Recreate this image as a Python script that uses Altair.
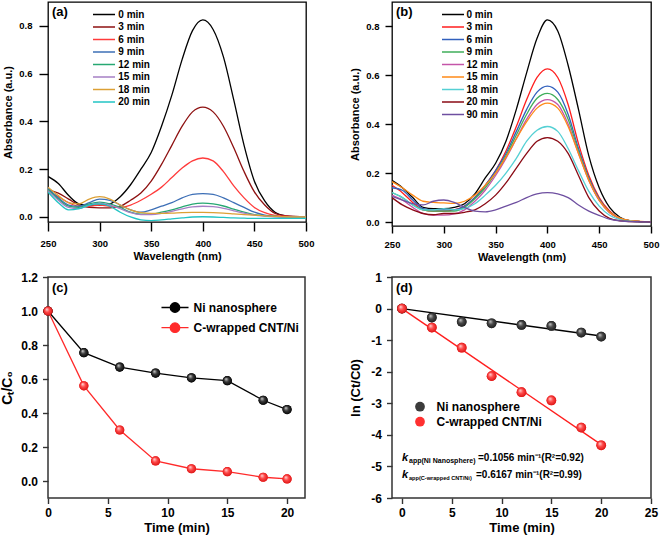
import altair as alt
import pandas as pd

FONT = "Liberation Sans"

# ---------------- data ----------------
wavelength = [250, 260, 270, 280, 290, 300, 310, 320, 330, 340, 350, 360, 370,
              380, 390, 400, 410, 420, 430, 440, 450, 460, 470, 480, 490, 500]

a_labels = ["0 min", "3 min", "6 min", "9 min", "12 min", "15 min", "18 min", "20 min"]
a_colors = ["#000000", "#8e1111", "#ff3b3b", "#3d6fb6", "#27a872", "#a67fc4", "#dca035", "#22c4c4"]
a_0 = [0.17, 0.14, 0.09, 0.055, 0.05, 0.05, 0.055, 0.085, 0.135, 0.2, 0.27, 0.38, 0.51, 0.66, 0.78, 0.825, 0.785, 0.67, 0.49, 0.30, 0.15, 0.067, 0.02, 0.005, 0.001, 0.0]
a_3 = [0.115, 0.1, 0.075, 0.05, 0.04, 0.038, 0.038, 0.045, 0.07, 0.1, 0.15, 0.22, 0.3, 0.38, 0.44, 0.46, 0.44, 0.38, 0.29, 0.19, 0.105, 0.05, 0.015, 0.005, 0.002, 0.0]
a_6 = [0.11, 0.085, 0.06, 0.045, 0.045, 0.05, 0.045, 0.04, 0.05, 0.07, 0.095, 0.125, 0.165, 0.205, 0.235, 0.247, 0.235, 0.19, 0.13, 0.08, 0.04, 0.018, 0.007, 0.003, 0.001, 0.0]
a_9 = [0.12, 0.08, 0.05, 0.045, 0.06, 0.075, 0.07, 0.05, 0.03, 0.02, 0.03, 0.045, 0.06, 0.08, 0.095, 0.098, 0.095, 0.08, 0.06, 0.04, 0.02, 0.008, 0.003, 0.0, 0.0, 0.0]
a_12 = [0.115, 0.075, 0.045, 0.04, 0.055, 0.062, 0.055, 0.04, 0.02, 0.012, 0.012, 0.02, 0.03, 0.042, 0.054, 0.058, 0.055, 0.046, 0.033, 0.02, 0.01, 0.005, 0.002, 0.0, 0.0, 0.0]
a_15 = [0.11, 0.07, 0.04, 0.035, 0.05, 0.058, 0.05, 0.035, 0.018, 0.01, 0.01, 0.015, 0.024, 0.034, 0.042, 0.045, 0.043, 0.036, 0.026, 0.016, 0.008, 0.004, 0.001, 0.0, 0.0, 0.0]
a_18 = [0.125, 0.09, 0.06, 0.055, 0.075, 0.085, 0.075, 0.05, 0.03, 0.018, 0.015, 0.015, 0.016, 0.018, 0.019, 0.019, 0.018, 0.016, 0.013, 0.01, 0.008, 0.005, 0.003, 0.001, 0.0, 0.0]
a_20 = [0.105, 0.06, 0.03, 0.035, 0.05, 0.055, 0.045, 0.02, 0.0, -0.012, -0.015, -0.012, -0.008, -0.004, 0.0, 0.001, 0.0, -0.002, -0.004, -0.005, -0.006, -0.006, -0.006, -0.006, -0.006, -0.006]
a_series = [a_0, a_3, a_6, a_9, a_12, a_15, a_18, a_20]

b_labels = ["0 min", "3 min", "6 min", "9 min", "12 min", "15 min", "18 min", "20 min", "90 min"]
b_colors = ["#000000", "#ff1e1e", "#3160bd", "#3fae5a", "#c455a8", "#ff8a17", "#55d0d4", "#8a0a14", "#6e4fa0"]
b_0 = [0.17, 0.14, 0.1, 0.06, 0.055, 0.055, 0.06, 0.075, 0.115, 0.18, 0.24, 0.33, 0.46, 0.61, 0.75, 0.825, 0.78, 0.64, 0.46, 0.27, 0.14, 0.06, 0.02, 0.005, 0.002, 0.0]
b_3 = [0.15, 0.12, 0.08, 0.05, 0.045, 0.045, 0.05, 0.065, 0.1, 0.15, 0.21, 0.29, 0.39, 0.5, 0.59, 0.625, 0.59, 0.48, 0.32, 0.19, 0.1, 0.045, 0.015, 0.005, 0.002, 0.0]
b_6 = [0.14, 0.13, 0.09, 0.055, 0.05, 0.05, 0.05, 0.065, 0.1, 0.15, 0.21, 0.28, 0.37, 0.46, 0.53, 0.555, 0.53, 0.44, 0.3, 0.18, 0.095, 0.04, 0.015, 0.005, 0.002, 0.0]
b_9 = [0.12, 0.1, 0.07, 0.05, 0.045, 0.045, 0.045, 0.06, 0.095, 0.14, 0.2, 0.27, 0.355, 0.44, 0.505, 0.525, 0.5, 0.42, 0.29, 0.175, 0.09, 0.04, 0.015, 0.005, 0.002, 0.0]
b_12 = [0.11, 0.09, 0.06, 0.035, 0.028, 0.028, 0.033, 0.05, 0.085, 0.13, 0.19, 0.26, 0.34, 0.42, 0.48, 0.5, 0.48, 0.4, 0.28, 0.17, 0.088, 0.038, 0.014, 0.005, 0.002, 0.0]
b_15 = [0.165, 0.14, 0.11, 0.085, 0.08, 0.078, 0.076, 0.085, 0.11, 0.15, 0.2, 0.265, 0.34, 0.41, 0.465, 0.485, 0.465, 0.39, 0.28, 0.17, 0.09, 0.04, 0.016, 0.006, 0.003, 0.001]
b_18 = [0.12, 0.1, 0.07, 0.05, 0.05, 0.055, 0.05, 0.055, 0.075, 0.11, 0.15, 0.2, 0.26, 0.33, 0.375, 0.39, 0.37, 0.3, 0.21, 0.125, 0.065, 0.028, 0.01, 0.004, 0.001, 0.0]
b_20 = [0.1, 0.07, 0.05, 0.035, 0.03, 0.035, 0.035, 0.04, 0.05, 0.075, 0.11, 0.16, 0.22, 0.28, 0.33, 0.345, 0.33, 0.28, 0.19, 0.1, 0.045, 0.015, 0.005, 0.002, 0.001, 0.0]
b_90 = [0.105, 0.09, 0.075, 0.07, 0.085, 0.09, 0.08, 0.06, 0.045, 0.042, 0.05, 0.065, 0.08, 0.1, 0.115, 0.12, 0.115, 0.1, 0.07, 0.045, 0.027, 0.012, 0.005, 0.002, 0.001, 0.0]
b_series = [b_0, b_3, b_6, b_9, b_12, b_15, b_18, b_20, b_90]

time_min = [0, 3, 6, 9, 12, 15, 18, 20]
kin_labels = ["Ni nanosphere", "C-wrapped CNT/Ni"]
c_ni = [1.0, 0.755, 0.67, 0.635, 0.607, 0.59, 0.475, 0.42]
c_cnt = [1.0, 0.56, 0.3, 0.118, 0.072, 0.055, 0.022, 0.012]

d_ni = [0.0, -0.285, -0.42, -0.465, -0.52, -0.55, -0.76, -0.89]
d_cnt = [0.0, -0.6, -1.24, -2.14, -2.65, -2.91, -3.77, -4.33]
fit_t = [0, 20]
fit_ni = [0.0, -0.87]
fit_cnt = [0.0, -4.31]


# ---------------- helpers ----------------
def long_spectra(labels, series):
    rows = []
    for lab, vals in zip(labels, series):
        for w, v in zip(wavelength, vals):
            rows.append({"wl": w, "A": v, "t": lab})
    return pd.DataFrame(rows)


def tag_layer(text, size=13, x=4, y=4):
    return alt.Chart(pd.DataFrame({"tag": [text]})).mark_text(
        align="left", baseline="top", font=FONT, fontWeight="bold", fontSize=size, color="black"
    ).encode(text="tag:N", x=alt.value(x), y=alt.value(y))


def sphere(light, mid, dark):
    return alt.RadialGradient(
        gradient="radial",
        stops=[alt.GradientStop(offset=0, color=light),
               alt.GradientStop(offset=0.45, color=mid),
               alt.GradientStop(offset=1, color=dark)],
        x1=0.35, y1=0.3, r1=0, x2=0.5, y2=0.5, r2=0.55,
    )


def ax(values, title, fmt=None, label_size=9.5, title_size=11, tick=9, lpad=7, tpad=3,
       color="black", expr=None, tw=1.4):
    kw = dict(values=values, title=title, grid=False, domain=False, ticks=True, tickSize=tick,
              tickColor=color, tickWidth=tw, tickOpacity=1, labelFont=FONT, labelFontWeight="bold",
              labelFontSize=label_size, labelColor="black", labelPadding=lpad,
              titleFont=FONT, titleFontWeight="bold", titleFontSize=title_size,
              titleColor="black", titlePadding=tpad, labelFlush=False, labelOverlap=False)
    if fmt:
        kw["format"] = fmt
    if expr:
        kw["labelExpr"] = expr
    return alt.Axis(**kw)


LINE_PATH = "M-2.75,0L2.75,0"


def spectra_panel(labels, colors, series, ydom, w, h, tag, lx, ly, loff, tick, lpad):
    df = long_spectra(labels, series)
    lines = alt.Chart(df).mark_line(strokeWidth=1.3, interpolate="monotone", clip=True).encode(
        x=alt.X("wl:Q", scale=alt.Scale(domain=[250, 500], nice=False, zero=False),
                axis=ax([250, 300, 350, 400, 450, 500], "Wavelength (nm)", tick=tick, lpad=lpad)),
        y=alt.Y("A:Q", scale=alt.Scale(domain=ydom, nice=False, zero=False),
                axis=ax([0, 0.2, 0.4, 0.6, 0.8], "Absorbance (a.u.)", fmt=".1f", tick=tick,
                        lpad=lpad, tpad=5)),
        color=alt.Color("t:N", sort=labels, scale=alt.Scale(domain=labels, range=colors),
                        legend=alt.Legend(orient="none", legendX=lx, legendY=ly, title=None,
                                          symbolType=LINE_PATH, symbolSize=64, symbolStrokeWidth=1.5,
                                          labelFont=FONT, labelFontWeight="bold", labelFontSize=10,
                                          labelColor="black", labelOffset=loff, rowPadding=2.5,
                                          padding=0)),
        detail="t:N",
    )
    return alt.layer(lines, tag_layer(tag)).properties(
        width=w, height=h, view=alt.ViewBackground(stroke="black", strokeWidth=1.3))


# ---------------- panel (a) & (b) ----------------
pa = spectra_panel(a_labels, a_colors, a_series, [-0.021, 0.9], 258, 220, "(a)", 51, 7.5, 9.3, 9, 7)
pb = spectra_panel(b_labels, b_colors, b_series, [-0.016, 0.898], 259, 224, "(b)", 56, 7.5, 8.5, 7, 6)

# ---------------- panel (c) ----------------
kin_colors = ["#000000", "#ff2a2a"]
c_df = pd.DataFrame({
    "t": time_min * 2,
    "v": c_ni + c_cnt,
    "s": [kin_labels[0]] * len(time_min) + [kin_labels[1]] * len(time_min),
})
cx = alt.X("t:Q", scale=alt.Scale(domain=[0, 21.5], nice=False, zero=False),
           axis=ax([0, 5, 10, 15, 20], "Time (min)", label_size=12, title_size=13, tick=5.5,
                   lpad=4, tpad=3, color="#333333"))
cy = alt.Y("v:Q", scale=alt.Scale(domain=[-0.1, 1.2], nice=False, zero=False),
           axis=ax([0, 0.2, 0.4, 0.6, 0.8, 1.0, 1.2], "Cₜ/C₀", fmt=".1f", label_size=12,
                   title_size=14, tick=5.5, lpad=5, tpad=6, color="#333333"))
c_scale = alt.Scale(domain=kin_labels, range=kin_colors)
c_leg = alt.Legend(orient="none", legendX=121, legendY=24.5, title=None,
                   symbolType="M-2.85,0L-1,0M1,0L2.85,0M1,0A1,1,0,1,1,-1,0A1,1,0,1,1,1,0Z",
                   symbolSize=90, symbolStrokeWidth=1.3, labelFont=FONT, labelFontWeight="bold",
                   labelFontSize=12, labelColor="black", labelOffset=12.5, rowPadding=4.2, padding=0)
c_lines = alt.Chart(c_df).mark_line(strokeWidth=1.3).encode(
    x=cx, y=cy, color=alt.Color("s:N", scale=c_scale, sort=kin_labels, legend=c_leg))
c_pts = alt.Chart(c_df).mark_point(filled=True, size=85, opacity=1).encode(
    x=cx, y=cy, color=alt.Color("s:N", scale=c_scale, sort=kin_labels, legend=c_leg))
c_sph_ni = alt.Chart(c_df).transform_filter(alt.datum.s == kin_labels[0]).mark_point(
    filled=True, size=85, opacity=1, strokeWidth=0,
    fill=sphere("#d8d8d8", "#3a3a3a", "#000000")).encode(x=cx, y=cy)
c_sph_cnt = alt.Chart(c_df).transform_filter(alt.datum.s == kin_labels[1]).mark_point(
    filled=True, size=85, opacity=1, strokeWidth=0,
    fill=sphere("#ffe0e0", "#ff4a4a", "#d81010")).encode(x=cx, y=cy)
pc = alt.layer(c_lines, c_pts, c_sph_ni, c_sph_cnt, tag_layer("(c)", 13, 4, 5)).properties(
    width=257, height=221, view=alt.ViewBackground(stroke="#333333", strokeWidth=1.5))

# ---------------- panel (d) ----------------
d_df = pd.DataFrame({
    "t": time_min * 2,
    "v": d_ni + d_cnt,
    "s": [kin_labels[0]] * len(time_min) + [kin_labels[1]] * len(time_min),
})
fit_df = pd.DataFrame({
    "t": fit_t * 2,
    "v": fit_ni + fit_cnt,
    "s": [kin_labels[0]] * len(fit_t) + [kin_labels[1]] * len(fit_t),
})
dx_ = alt.X("t:Q", scale=alt.Scale(domain=[-1, 25], nice=False, zero=False),
            axis=ax([0, 5, 10, 15, 20, 25], "Time (min)", label_size=12, title_size=13, tick=5.5,
                    lpad=4, tpad=3, color="#333333"))
dy_ = alt.Y("v:Q", scale=alt.Scale(domain=[-6, 1], nice=False, zero=False),
            axis=ax([-6, -5, -4, -3, -2, -1, 0, 1], "ln (Ct/C0)", label_size=12, title_size=13,
                    tick=5.5, lpad=5, tpad=8, color="#333333", expr="datum.value + ''"))
d_pt_colors = ["#3c3c3c", "#ff3030"]
d_fit_ni = alt.Chart(fit_df).transform_filter(alt.datum.s == kin_labels[0]).mark_line(
    strokeWidth=1.4, color="#000000").encode(x=dx_, y=dy_)
d_fit_cnt = alt.Chart(fit_df).transform_filter(alt.datum.s == kin_labels[1]).mark_line(
    strokeWidth=1.4, color="#ff1e1e").encode(x=dx_, y=dy_)
d_pts = alt.Chart(d_df).mark_point(filled=True, size=95, opacity=1).encode(
    x=dx_, y=dy_,
    color=alt.Color("s:N", sort=kin_labels, scale=alt.Scale(domain=kin_labels, range=d_pt_colors),
                    legend=alt.Legend(orient="none", legendX=22, legendY=123.7, title=None,
                                      symbolType="circle", symbolSize=95, labelFont=FONT,
                                      labelFontWeight="bold", labelFontSize=12, labelColor="black",
                                      labelOffset=10.5, rowPadding=3, padding=0)))
d_sph_ni = alt.Chart(d_df).transform_filter(alt.datum.s == kin_labels[0]).mark_point(
    filled=True, size=95, opacity=1, strokeWidth=0,
    fill=sphere("#d0d0d0", "#4a4a4a", "#1a1a1a")).encode(x=dx_, y=dy_)
d_sph_cnt = alt.Chart(d_df).transform_filter(alt.datum.s == kin_labels[1]).mark_point(
    filled=True, size=95, opacity=1, strokeWidth=0,
    fill=sphere("#ffe0e0", "#ff4a4a", "#d81010")).encode(x=dx_, y=dy_)


def txt(s, x, y, size, style="normal"):
    return alt.Chart(pd.DataFrame({"s": [s]})).mark_text(
        align="left", baseline="alphabetic", font=FONT, fontWeight="bold", fontStyle=style,
        fontSize=size, color="black").encode(text="s:N", x=alt.value(x), y=alt.value(y))


ann = [
    txt("k", 10, 184, 11, "italic"),
    txt("app(Ni Nanosphere)", 17, 186, 7),
    txt("=0.1056 min⁻¹(R²=0.92)", 86, 184, 10),
    txt("k", 10, 201, 11, "italic"),
    txt("app(C-wrapped CNT/Ni)", 17, 203, 5.6),
    txt("=0.6167 min⁻¹(R²=0.99)", 84, 201, 10),
]
pd_ = alt.layer(d_fit_ni, d_fit_cnt, d_pts, d_sph_ni, d_sph_cnt, *ann,
                tag_layer("(d)", 13, 4, 5)).properties(
    width=259, height=221, view=alt.ViewBackground(stroke="#333333", strokeWidth=1.5))

chart = alt.concat(
    pa, pb, pc, pd_, columns=2, spacing={"row": 51, "column": 86}, bounds="flush", align="each"
).resolve_scale(
    x="independent", y="independent", color="independent"
).properties(
    padding={"left": 0, "top": 1, "right": 0, "bottom": 0}
).configure(
    background="white"
)

chart.save("out.html", embed_options={"renderer": "svg", "actions": False})
